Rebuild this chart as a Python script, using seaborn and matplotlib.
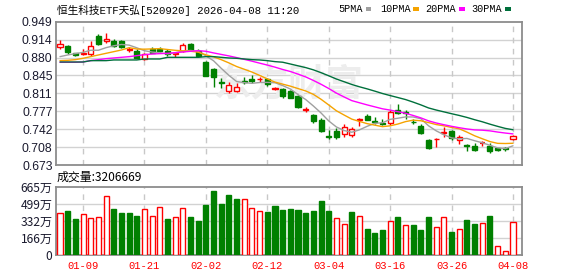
import numpy as np
import pandas as pd
import matplotlib
matplotlib.use("Agg")
import matplotlib.pyplot as plt
import seaborn as sns

# ---------------- data ----------------
dates = ["01-06", "01-07", "01-08", "01-09", "01-12", "01-13", "01-14", "01-15", "01-16", "01-19",
         "01-20", "01-21", "01-22", "01-23", "01-26", "01-27", "01-28", "01-29", "01-30", "02-02",
         "02-03", "02-04", "02-05", "02-06", "02-09", "02-10", "02-11", "02-12", "02-13", "02-24",
         "02-25", "02-26", "02-27", "03-02", "03-03", "03-04", "03-05", "03-06", "03-09", "03-10",
         "03-11", "03-12", "03-13", "03-16", "03-17", "03-18", "03-19", "03-20", "03-23", "03-24",
         "03-25", "03-26", "03-27", "03-30", "03-31", "04-01", "04-02", "04-03", "04-07", "04-08"]

open_ = [0.8997, 0.9022, 0.8881, 0.8868, 0.8868, 0.9221, 0.9125, 0.9119, 0.9119, 0.8945,
         0.8926, 0.8765, 0.8965, 0.8971, 0.8932, 0.8875, 0.8926, 0.9054, 0.8932, 0.8721,
         0.8579, 0.8329, 0.8156, 0.8156, 0.8355, 0.8380, 0.8380, 0.8380, 0.8188, 0.8194,
         0.8162, 0.8059, 0.7790, 0.7687, 0.7597, 0.7289, 0.7385, 0.7321, 0.7308, 0.7591,
         0.7680, 0.7578, 0.7533, 0.7533, 0.7790, 0.7745, 0.7565, 0.7481, 0.7212, 0.7225,
         0.7340, 0.7385, 0.7212, 0.7116, 0.7103, 0.7148, 0.7103, 0.7051, 0.7051, 0.7225]
high = [0.9138, 0.9035, 0.8894, 0.8958, 0.9119, 0.9253, 0.9266, 0.9157, 0.9138, 0.8997,
        0.8965, 0.8881, 0.9009, 0.9009, 0.8958, 0.8913, 0.9074, 0.9086, 0.8958, 0.8727,
        0.8592, 0.8400, 0.8335, 0.8303, 0.8419, 0.8464, 0.8432, 0.8400, 0.8239, 0.8220,
        0.8175, 0.8079, 0.7841, 0.7713, 0.7629, 0.7404, 0.7437, 0.7520, 0.7469, 0.7642,
        0.7713, 0.7648, 0.7616, 0.7790, 0.7899, 0.7790, 0.7616, 0.7520, 0.7231, 0.7257,
        0.7469, 0.7404, 0.7308, 0.7135, 0.7160, 0.7199, 0.7148, 0.7064, 0.7071, 0.7302]
low = [0.8971, 0.8868, 0.8830, 0.8849, 0.8830, 0.9048, 0.9074, 0.9009, 0.8990, 0.8913,
       0.8785, 0.8753, 0.8881, 0.8900, 0.8830, 0.8817, 0.8913, 0.8926, 0.8804, 0.8438,
       0.8239, 0.8220, 0.8123, 0.8136, 0.8284, 0.8316, 0.8335, 0.8258, 0.8175, 0.8027,
       0.8014, 0.7822, 0.7758, 0.7533, 0.7372, 0.7231, 0.7225, 0.7276, 0.7263, 0.7481,
       0.7597, 0.7520, 0.7501, 0.7494, 0.7706, 0.7616, 0.7520, 0.7327, 0.7045, 0.7083,
       0.7263, 0.7212, 0.7135, 0.7006, 0.7006, 0.7096, 0.6968, 0.7000, 0.7006, 0.7212]
close = [0.9054, 0.8900, 0.8843, 0.8881, 0.9022, 0.9054, 0.9151, 0.9022, 0.9009, 0.8958,
         0.8798, 0.8868, 0.8894, 0.8932, 0.8862, 0.8894, 0.9042, 0.8952, 0.8830, 0.8444,
         0.8419, 0.8316, 0.8271, 0.8239, 0.8335, 0.8355, 0.8393, 0.8284, 0.8207, 0.8059,
         0.8027, 0.7854, 0.7809, 0.7584, 0.7385, 0.7263, 0.7270, 0.7469, 0.7417, 0.7616,
         0.7603, 0.7559, 0.7520, 0.7745, 0.7725, 0.7732, 0.7552, 0.7353, 0.7064, 0.7238,
         0.7360, 0.7244, 0.7263, 0.7103, 0.7019, 0.7160, 0.7006, 0.7013, 0.7032, 0.7289]

# volume in 万 shares
volume = [407, 430, 351, 398, 358, 368, 574, 445, 407, 407,
          381, 447, 381, 467, 351, 368, 457, 371, 325, 487,
          621, 492, 581, 542, 542, 453, 426, 418, 476, 440,
          445, 439, 410, 428, 528, 430, 355, 302, 414, 375,
          252, 213, 243, 332, 365, 292, 285, 243, 365, 272,
          371, 223, 252, 342, 302, 312, 375, 84, 35, 320.6669]

# moving-average values before enough bars are visible
ma5_head = [0.8817, 0.8849, 0.8875, 0.8900]
ma10_head = [0.8740, 0.8746, 0.8759, 0.8785, 0.8817, 0.8849, 0.8881, 0.8913, 0.8945]
ma20_head = [0.8708, 0.8708, 0.8708, 0.8714, 0.8740, 0.8759, 0.8778, 0.8791, 0.8804, 0.8817,
             0.8836, 0.8855, 0.8868, 0.8875, 0.8881, 0.8894, 0.8907, 0.8920, 0.8932]
ma30_head = [0.8714, 0.8714, 0.8714, 0.8714, 0.8740, 0.8740, 0.8740, 0.8753, 0.8753, 0.8753,
             0.8753, 0.8772, 0.8772, 0.8772, 0.8804, 0.8804, 0.8804, 0.8804, 0.8804, 0.8817,
             0.8817, 0.8804, 0.8791, 0.8785, 0.8772, 0.8759, 0.8753, 0.8740, 0.8721]

price_ticks = ["0.673", "0.708", "0.742", "0.777", "0.811", "0.845", "0.880", "0.914", "0.949"]
vol_ticks = ["0", "166万", "332万", "499万", "665万"]
date_ticks = ["01-09", "01-21", "02-02", "02-12", "03-04", "03-16", "03-26", "04-08"]
title = "恒生科技ETF天弘[520920] 2026-04-08 11:20"
vol_title = "成交量:3206669"
ma_names = ["5PMA", "10PMA", "20PMA", "30PMA"]

# ---------------- styling ----------------
sns.set_theme(style="white")
plt.rcParams["font.family"] = ["Liberation Sans", "Noto Sans CJK SC", "DejaVu Sans"]
CJK = ["Noto Sans CJK SC", "DejaVu Sans"]
MONO = ["Liberation Mono", "Noto Sans CJK SC", "DejaVu Sans"]

RED = "#ff0000"
GREEN = "#008000"
MA_COLORS = ["#a0a0a0", "#f5a300", "#ff00ff", "#00703c"]
GRID = "#d2d2d2"
FRAME = "#8c8c8c"
TXT = "#1a1a2e"

W, H = 578, 276
fig = plt.figure(figsize=(W / 100, H / 100), dpi=100)
fig.patch.set_facecolor("white")


def fx(x):
    return x / W


def fy(y):
    return 1 - y / H


L, R = 56, 522
ax = fig.add_axes([fx(L), fy(165), fx(R) - fx(L), fy(21.7) - fy(165)])
axv = fig.add_axes([fx(L), fy(254.5), fx(R) - fx(L), fy(186.7) - fy(254.5)])

n = len(close)
idx = np.arange(n)
df = pd.DataFrame({"i": idx, "open": open_, "high": high, "low": low, "close": close,
                   "vol": volume})

heads = {5: ma5_head, 10: ma10_head, 20: ma20_head, 30: ma30_head}
for k, h in heads.items():
    s = df["close"].rolling(k).mean().to_numpy()
    s[:k - 1] = h
    df[f"ma{k}"] = s

up = df["close"] >= df["open"]
vol_up = df["close"] >= df["close"].shift(1).fillna(0)

px_per_bar = (513 - 60) / 59.0
xlim = (-(60 - L) / px_per_bar, 59 + (R - 513) / px_per_bar)
bw = 0.66

# ---------- price panel ----------
ylo, yhi = 0.673, 0.949
yt = np.linspace(ylo, yhi, 9)
ax.set_xlim(*xlim)
ax.set_ylim(ylo, yhi)
ax.set_yticks(yt)
ax.set_yticklabels(price_ticks)
tick_pos = [dates.index(d) for d in date_ticks]
ax.set_xticks(tick_pos)
ax.set_xticklabels([])
for y in yt[1:-1]:
    ax.axhline(y, color=GRID, lw=1.0, zorder=0)
for t in tick_pos:
    ax.axvline(t, color="#c8c8c8", lw=1.0, ls=(0, (4, 4)), zorder=0)

ax.text(0.5, 0.56, "东方财富", transform=ax.transAxes, family=CJK, fontsize=27,
        fontweight="bold", color="#ededed", ha="center", va="center", zorder=0.5)

for i, r in df.iterrows():
    col = RED if up[i] else GREEN
    body_lo = min(r["open"], r["close"])
    body_h = abs(r["close"] - r["open"])
    ax.vlines(i, r["low"], r["high"], color=col, lw=1.0, zorder=2)
    if body_h < 0.0012:
        ax.hlines((r["open"] + r["close"]) / 2, i - bw / 2, i + bw / 2, color=col, lw=1.6, zorder=3)
    else:
        ax.bar(i, body_h, bottom=body_lo, width=bw,
               facecolor="white" if up[i] else col, edgecolor=col, lw=1.0, zorder=3)

for k, c in zip([5, 10, 20, 30], MA_COLORS):
    sns.lineplot(data=df, x="i", y=f"ma{k}", color=c, lw=1.0, ax=ax, zorder=4, legend=False)

ax.set_xlabel("")
ax.set_ylabel("")

# ---------- volume panel ----------
vmax = 665
axv.set_xlim(*xlim)
axv.set_ylim(0, vmax)
vt = np.linspace(0, vmax, 5)
axv.set_yticks(vt)
axv.set_yticklabels(vol_ticks)
axv.set_xticks(tick_pos)
axv.set_xticklabels(date_ticks)
for y in vt[1:-1]:
    axv.axhline(y, color=GRID, lw=1.0, zorder=0)
for t in tick_pos:
    axv.axvline(t, color="#c8c8c8", lw=1.0, ls=(0, (4, 4)), zorder=0)
for i, r in df.iterrows():
    col = RED if vol_up[i] else GREEN
    axv.bar(i, r["vol"], width=bw, facecolor="white" if vol_up[i] else col,
            edgecolor=col, lw=1.0, zorder=3)

for a in (ax, axv):
    a.set_facecolor("white")
    for sp in a.spines.values():
        sp.set_color(FRAME)
        sp.set_linewidth(1.3)
    a.tick_params(axis="both", length=0, pad=2.5)
    a.tick_params(axis="y", labelsize=8.7, labelcolor=TXT)
for lab in axv.get_yticklabels():
    lab.set_family(CJK)
axv.tick_params(axis="x", labelsize=7.6, labelcolor=RED, pad=4.5)
for lab in axv.get_xticklabels():
    lab.set_family(MONO)

# ---------- texts ----------
fig.text(fx(57), fy(10), title, family=MONO, fontsize=7.7, color="black", va="center", ha="left")
fig.text(fx(57), fy(177.5), vol_title, family=CJK, fontsize=8.6, color="black", va="center", ha="left")

lx = [338, 380, 425, 471]
sq = [365.5, 413, 459, 505]
for x0, s0, name, c in zip(lx, sq, ma_names, MA_COLORS):
    fig.text(fx(x0), fy(9.5), name, fontsize=7.3, color="black", va="center", ha="left",
             family=MONO)
    fig.patches.append(matplotlib.patches.Rectangle((fx(s0), fy(10.5)), 5.5 / W, 3.5 / H,
                                                    transform=fig.transFigure, facecolor=c,
                                                    edgecolor="none"))

fig.savefig("out.png", dpi=100, facecolor="white")
